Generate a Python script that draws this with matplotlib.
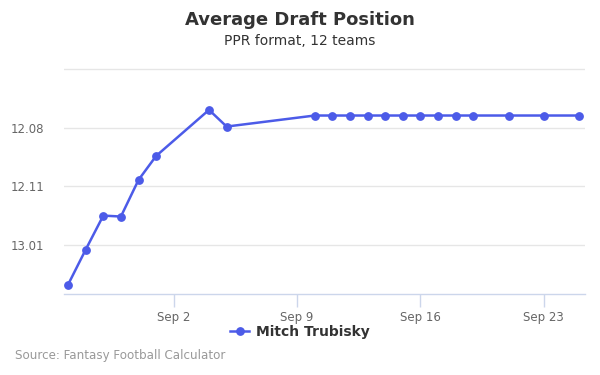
import matplotlib
matplotlib.use("Agg")
import matplotlib.pyplot as plt
import matplotlib.dates as mdates
from matplotlib.lines import Line2D
import datetime as dt

# Data
dates = ["2018-08-27", "2018-08-28", "2018-08-29", "2018-08-30", "2018-08-31", "2018-09-01",
         "2018-09-04", "2018-09-05", "2018-09-10", "2018-09-11", "2018-09-12", "2018-09-13",
         "2018-09-14", "2018-09-15", "2018-09-16", "2018-09-17", "2018-09-18", "2018-09-19",
         "2018-09-21", "2018-09-23", "2018-09-25"]
adp = [146.69, 145.20, 143.75, 143.79, 142.23, 141.21,
       139.25, 139.96, 139.49, 139.49, 139.49, 139.49,
       139.49, 139.49, 139.49, 139.49, 139.49, 139.49,
       139.49, 139.49, 139.49]
y_ticks = [137.5, 140, 142.5, 145]
y_tick_labels = ["", "12.08", "12.11", "13.01"]
x_ticks = ["2018-09-02", "2018-09-09", "2018-09-16", "2018-09-23"]
x_tick_labels = ["Sep 2", "Sep 9", "Sep 16", "Sep 23"]
series_name = "Mitch Trubisky"

line_color = "#4C5BE8"

fig = plt.figure(figsize=(6, 3.75), dpi=100)
ax = fig.add_axes([64/600, 1 - 294.3/375, (585-64)/600, (294.3-68.3)/375])

xd = [dt.datetime.strptime(d, "%Y-%m-%d") for d in dates]
ax.plot(xd, adp, color=line_color, lw=1.8, marker="o", ms=5.3, zorder=3, clip_on=False)

x0 = dt.datetime(2018, 8, 27) - dt.timedelta(days=0.23)
x1 = dt.datetime(2018, 9, 25) + dt.timedelta(days=0.34)
ax.set_xlim(x0, x1)
ax.set_ylim(147.1, 137.48)

ax.set_yticks(y_ticks)
ax.set_yticklabels(y_tick_labels)
ax.set_xticks([dt.datetime.strptime(d, "%Y-%m-%d") for d in x_ticks])
ax.set_xticklabels(x_tick_labels)

ax.grid(axis="y", color="#e6e6e6", lw=1)
ax.set_axisbelow(True)
for s in ["top", "right", "left"]:
    ax.spines[s].set_visible(False)
ax.spines["bottom"].set_color("#ccd6eb")
ax.spines["bottom"].set_linewidth(1)
ax.tick_params(axis="y", length=0, pad=14, labelsize=8.5, labelcolor="#666666")
ax.tick_params(axis="x", length=9, width=1, color="#ccd6eb", pad=3, labelsize=8.5, labelcolor="#666666")

fig.text(0.5, 1 - 20/375, "Average Draft Position", ha="center", va="center",
         fontsize=13, fontweight="bold", color="#333333")
fig.text(0.5, 1 - 41/375, "PPR format, 12 teams", ha="center", va="center",
         fontsize=10, color="#333333")
fig.text(15/600, 1 - 356/375, "Source: Fantasy Football Calculator", ha="left", va="center",
         fontsize=8.6, color="#999999")

handle = Line2D([], [], color=line_color, lw=1.8, marker="o", ms=5.3)
leg = fig.legend([handle], [series_name], loc="center", bbox_to_anchor=(300/600, 1 - 332/375),
                 frameon=False, prop={"weight": "bold", "size": 10}, handlelength=1.4,
                 handletextpad=0.5)
for t in leg.get_texts():
    t.set_color("#333333")

fig.savefig("out.png", dpi=100)
